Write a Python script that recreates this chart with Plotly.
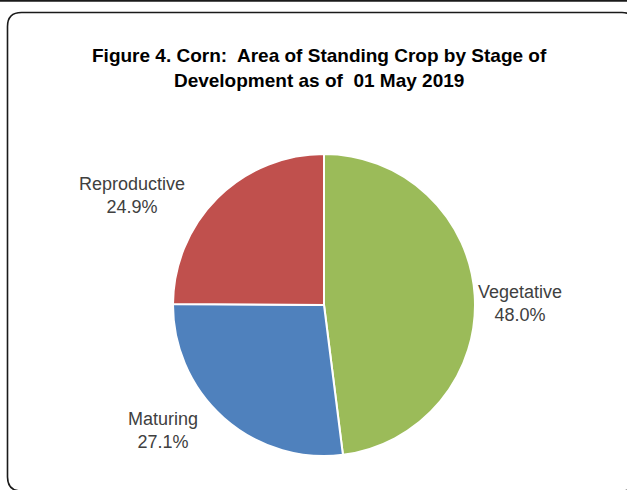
import plotly.graph_objects as go

# Data
stages = ["Vegetative", "Maturing", "Reproductive"]
shares = [48.0, 27.1, 24.9]
colors = ["#9BBB59", "#4F81BD", "#C0504D"]
title_lines = ["Figure 4. Corn:  Area of Standing Crop by Stage of",
               "Development as of  01 May 2019"]

W, H = 627, 490

def px(x):
    return x / W

def py(y):
    return 1 - y / H

fig = go.Figure()

cx, cy, r = 324, 305, 151
fig.add_trace(go.Pie(
    labels=stages,
    values=shares,
    sort=False,
    direction="clockwise",
    rotation=0,
    marker=dict(colors=colors, line=dict(color="white", width=2)),
    textinfo="none",
    hoverinfo="label+percent",
    showlegend=False,
    domain=dict(x=[px(cx - r), px(cx + r)], y=[py(cy + r), py(cy - r)]),
))

# label positions (pixel centres of each label block)
label_pos = {"Vegetative": (520, 303), "Maturing": (163, 430), "Reproductive": (132, 195)}
total = sum(shares)
annotations = []
for s, v in zip(stages, shares):
    x, y = label_pos[s]
    annotations.append(dict(
        x=px(x), y=py(y), xref="paper", yref="paper",
        text=f"{s}<br>{v / total * 100:.1f}%",
        showarrow=False, xanchor="center", yanchor="middle",
        font=dict(family="Liberation Sans, Arial, sans-serif", size=18, color="#404040"),
        align="center",
    ))

annotations.append(dict(
    x=px(319), y=py(68), xref="paper", yref="paper",
    text="<b>" + title_lines[0] + "</b><br><b>" + title_lines[1] + "</b>",
    showarrow=False, xanchor="center", yanchor="middle", align="center",
    font=dict(family="Liberation Sans, Arial, sans-serif", size=19, color="#000000"),
))

# frame
x0, x1 = px(7.5), px(636)
yb, yt = py(491), py(12.5)
rx, ry = 14 / W, 14 / H
path = (f"M {x0},{yt - ry} L {x0},{yb + ry} Q {x0},{yb} {x0 + rx},{yb} "
        f"L {x1 - rx},{yb} Q {x1},{yb} {x1},{yb + ry} L {x1},{yt - ry} "
        f"Q {x1},{yt} {x1 - rx},{yt} L {x0 + rx},{yt} Q {x0},{yt} {x0},{yt - ry} Z")
shapes = [
    dict(type="path", path=path, xref="paper", yref="paper",
         line=dict(color="#1a1a1a", width=1.6), fillcolor="rgba(0,0,0,0)", layer="below"),
    dict(type="line", x0=0, x1=1, y0=py(0.8), y1=py(0.8), xref="paper", yref="paper",
         line=dict(color="#1a1a1a", width=2)),
]

fig.update_layout(
    width=W, height=H,
    margin=dict(l=0, r=0, t=0, b=0),
    paper_bgcolor="white", plot_bgcolor="white",
    annotations=annotations,
    shapes=shapes,
)

fig.write_html("out.html",
               config={"displayModeBar": False},
               post_script="document.body.style.margin='0';document.body.style.overflow='hidden';")
